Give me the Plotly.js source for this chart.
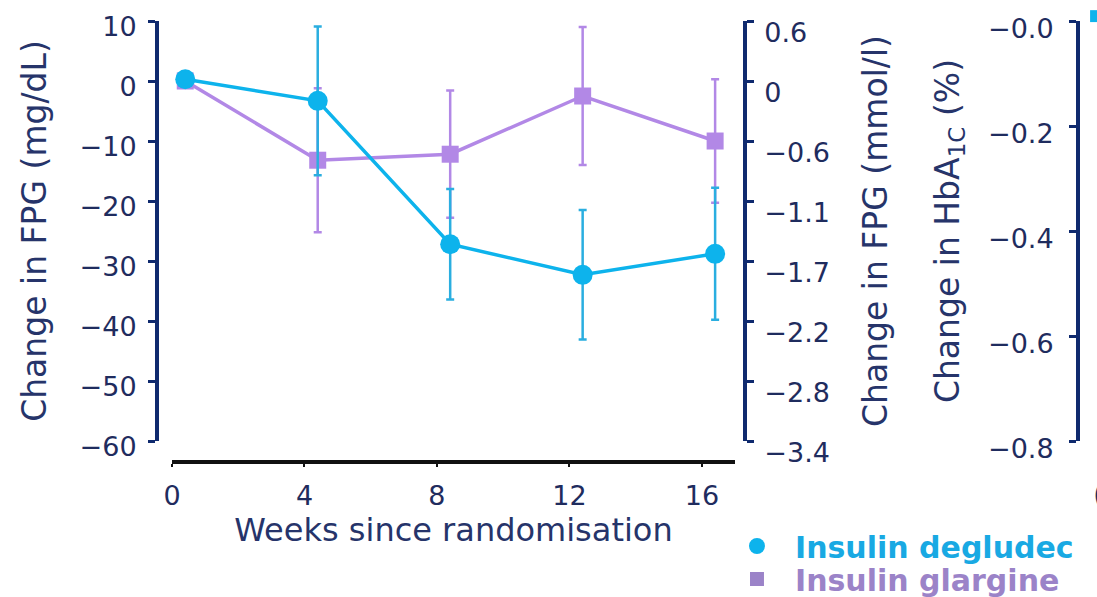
<!DOCTYPE html>
<html>
<head>
<meta charset="utf-8">
<script src="https://cdn.plot.ly/plotly-3.0.1.min.js"></script>
<style>
  html, body { margin: 0; padding: 0; background: #ffffff; }
  #chart { width: 1097px; height: 597px; }
</style>
</head>
<body>
<div id="chart"></div>
<script>
// ---- data ----
const weeks = [0.4, 4.4, 8.4, 12.4, 16.4];
const degludecFPG = [0.3, -3.3, -27.2, -32.3, -28.8];
const degludecErr = [0, 12.4, 9.2, 10.8, 11.0];
const glargineFPG = [0, -13.2, -12.2, -2.5, -10.0];
const glargineErr = [0, 12.0, 10.6, 11.5, 10.3];

const xTicks = [0, 4, 8, 12, 16];
const mgTicks = [10, 0, -10, -20, -30, -40, -50, -60];
const mmolTickText = ['0.6', '0', '\u22120.6', '\u22121.1', '\u22121.7', '\u22122.2', '\u22122.8', '\u22123.4'];
const hbaTicks = [0, -0.2, -0.4, -0.6, -0.8];
const hbaTickText = ['\u22120.0', '\u22120.2', '\u22120.4', '\u22120.6', '\u22120.8'];

const seriesNames = ['Insulin degludec', 'Insulin glargine'];

// ---- styling ----
const FONT = 'DejaVu Sans, Verdana, sans-serif';
const NAVY = '#0f2a6e';
const TXT = '#1f2c5e';
const CYAN = '#0db3ec';
const CYAN_BAR = '#2aaee0';
const PURPLE = '#b288e6';
const PURPLE_LEG = '#9b83c8';

const traces = [
  {
    x: weeks, y: glargineFPG, type: 'scatter', mode: 'lines+markers',
    line: {color: PURPLE, width: 3.5},
    marker: {symbol: 'square', size: 17, color: PURPLE},
    error_y: {type: 'data', array: glargineErr, visible: true, color: PURPLE, thickness: 2.5, width: 4},
    showlegend: false, hoverinfo: 'x+y'
  },
  {
    x: weeks, y: degludecFPG, type: 'scatter', mode: 'lines+markers',
    line: {color: CYAN, width: 3.5},
    marker: {symbol: 'circle', size: 20, color: CYAN},
    error_y: {type: 'data', array: degludecErr, visible: true, color: CYAN_BAR, thickness: 2.5, width: 4},
    showlegend: false, hoverinfo: 'x+y'
  },
  // empty traces so the secondary axes are drawn
  {x: [], y: [], yaxis: 'y2', type: 'scatter', mode: 'markers', showlegend: false, hoverinfo: 'skip'},
  {x: [], y: [], yaxis: 'y3', type: 'scatter', mode: 'markers', showlegend: false, hoverinfo: 'skip'},
  // legend entries (markers only)
  {x: [null], y: [null], type: 'scatter', mode: 'markers', legend: 'legend',
   name: '<b><span style="color:#19a9e3">' + seriesNames[0] + '</span></b>',
   marker: {symbol: 'circle', size: 16, color: CYAN}},
  {x: [null], y: [null], type: 'scatter', mode: 'markers', legend: 'legend2',
   name: '<b><span style="color:' + PURPLE_LEG + '">' + seriesNames[1] + '</span></b>',
   marker: {symbol: 'square', size: 14, color: PURPLE_LEG}}
];

const tickFont = {family: FONT, size: 27, color: TXT};
const titleFont = {family: FONT, size: 33, color: '#26346a'};
const legFont = {family: FONT, size: 30};

const layout = {
  width: 1097, height: 597,
  margin: {l: 0, r: 0, t: 0, b: 0, autoexpand: false},
  paper_bgcolor: '#ffffff', plot_bgcolor: '#ffffff',
  font: {family: FONT, color: TXT},
  showlegend: true,
  legend: {
    x: 0.6554, y: (597 - 546) / 597, xanchor: 'left', yanchor: 'middle',
    bgcolor: 'rgba(0,0,0,0)', font: legFont, itemwidth: 66
  },
  legend2: {
    x: 0.6554, y: (597 - 579) / 597, xanchor: 'left', yanchor: 'middle',
    bgcolor: 'rgba(0,0,0,0)', font: legFont, itemwidth: 66
  },
  xaxis: {
    domain: [0.1568, 0.6700], range: [0, 17], anchor: 'free', position: 0.2261,
    showline: true, linecolor: '#111111', linewidth: 4,
    ticks: 'outside', ticklen: 3, tickwidth: 2, tickcolor: '#111111',
    tickvals: xTicks, tickfont: tickFont, ticklabelstandoff: 6,
    showgrid: false, zeroline: false,
    title: {text: 'Weeks since randomisation', font: {family: FONT, size: 32, color: '#26346a'}, standoff: 4},
    automargin: false
  },
  yaxis: {
    domain: [0.2613, 0.9648], range: [-60, 10], anchor: 'free', position: 0.1431,
    showline: true, linecolor: NAVY, linewidth: 4,
    ticks: 'outside', ticklen: 7, tickwidth: 3, tickcolor: NAVY,
    tickvals: mgTicks, tickfont: tickFont, ticklabelshift: 6, ticklabelstandoff: 6,
    showgrid: false, zeroline: false,
    title: {text: 'Change in FPG (mg/dL)', font: titleFont, standoff: 22},
    automargin: false
  },
  yaxis2: {
    overlaying: 'y', side: 'right', anchor: 'free', position: 0.6791,
    range: [-60, 10], showline: true, linecolor: NAVY, linewidth: 4,
    ticks: 'outside', ticklen: 7, tickwidth: 3, tickcolor: NAVY,
    tickvals: mgTicks, ticktext: mmolTickText, tickfont: tickFont,
    ticklabelshift: 12, ticklabelstandoff: 5,
    showgrid: false, zeroline: false,
    title: {text: 'Change in FPG (mmol/l)', font: titleFont, standoff: 34},
    automargin: false
  },
  yaxis3: {
    overlaying: 'y', side: 'left', anchor: 'free', position: 0.9827,
    range: [-0.8, 0], showline: true, linecolor: NAVY, linewidth: 4,
    ticks: 'outside', ticklen: 7, tickwidth: 3, tickcolor: NAVY,
    tickvals: hbaTicks, ticktext: hbaTickText, tickfont: tickFont,
    ticklabelshift: 8, ticklabelstandoff: 10,
    showgrid: false, zeroline: false,
    title: {text: 'Change in HbA<sub>1C</sub> (%)', font: titleFont, standoff: 18},
    automargin: false
  },
  shapes: [
    {type: 'rect', xref: 'paper', yref: 'paper', x0: 0.9937, x1: 1.0, y0: 0.963, y1: 0.983,
     fillcolor: CYAN, line: {width: 0}}
  ],
  annotations: [
    {xref: 'paper', yref: 'paper', x: 0.9945, y: 0.171, xanchor: 'left', yanchor: 'middle',
     text: '(', showarrow: false, font: {family: FONT, size: 30, color: TXT}}
  ]
};

Plotly.newPlot('chart', traces, layout, {displayModeBar: false, staticPlot: true});
</script>
</body>
</html>
